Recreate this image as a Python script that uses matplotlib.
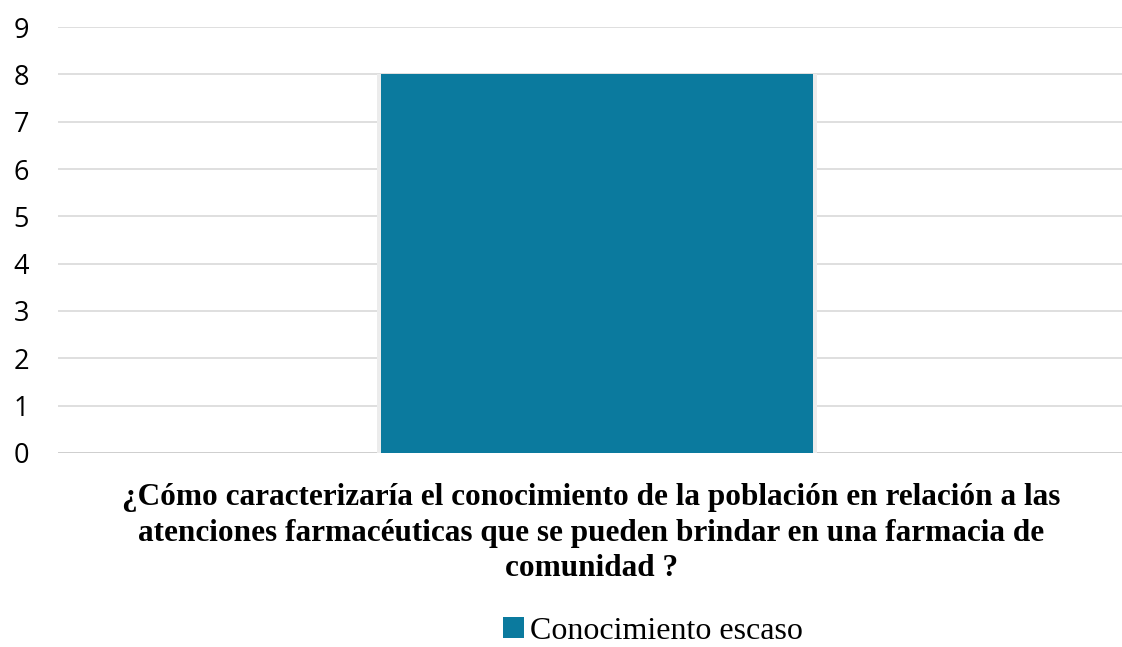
import matplotlib
matplotlib.use('Agg')
from matplotlib import pyplot as plt
from matplotlib.patches import Patch

categories = ["¿Cómo caracterizaría el conocimiento de la población en relación a las\n"
              "atenciones farmacéuticas que se pueden brindar en una farmacia de\n"
              "comunidad ?"]
series_name = "Conocimiento escaso"
values = [8]
y_ticks = list(range(0, 10))

BAR_COLOR = "#0b7a9e"
GRID_COLOR = "#d9d9d9"

fig = plt.figure(figsize=(11.22, 6.47), dpi=100)
ax = fig.add_axes([0.0517, 0.3, 0.9483, 0.658])

x = list(range(len(categories)))
# light shadow behind the bar
ax.bar(x, values, width=0.414, color="#ececec", zorder=2)
ax.bar(x, values, width=0.406, color=BAR_COLOR, zorder=3)

ax.set_xlim(-0.5066, 0.4934)
ax.set_ylim(0, 9)
ax.set_yticks(y_ticks)
ax.set_yticklabels([str(t) for t in y_ticks], fontfamily="Open Sans", fontsize=19.5)
ax.tick_params(axis="y", length=0, pad=21)
ax.set_xticks([])

ax.grid(axis="y", color=GRID_COLOR, linewidth=1.2, zorder=0)
ax.set_axisbelow(True)
for s in ax.spines.values():
    s.set_visible(False)
ax.axhline(0, color="#cfcfcf", linewidth=1.4, zorder=1)

fig.text(0.527, 0.176, categories[0], ha="center", va="center",
         fontfamily="Liberation Serif", fontweight="bold", fontsize=22.5,
         linespacing=1.3)

handles = [Patch(facecolor=BAR_COLOR, label=series_name)]
fig.legend(handles=handles, loc="center", bbox_to_anchor=(0.582, 0.024),
           frameon=False, prop={"family": "Liberation Serif", "size": 23},
           handlelength=0.65, handleheight=0.65, handletextpad=0.2,
           borderpad=0.1)

fig.savefig("out.png", dpi=100)
